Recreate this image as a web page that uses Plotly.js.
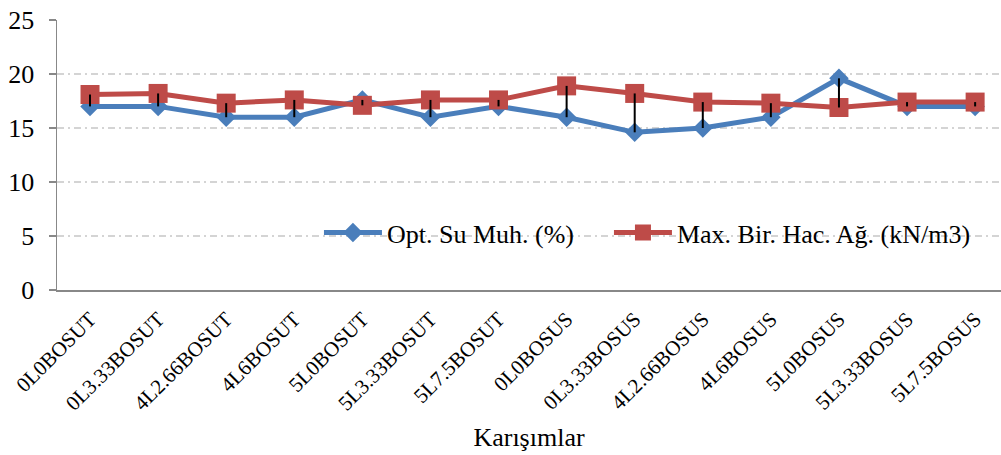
<!DOCTYPE html>
<html>
<head>
<meta charset="utf-8">
<script src="https://cdn.plot.ly/plotly-3.0.1.min.js"></script>
<style>html,body{margin:0;padding:0;background:#fff;}#chart{width:1001px;height:455px;}</style>
</head>
<body>
<div id="chart"></div>
<script>
const categories = ["0L0BOSUT","0L3.33BOSUT","4L2.66BOSUT","4L6BOSUT","5L0BOSUT","5L3.33BOSUT","5L7.5BOSUT","0L0BOSUS","0L3.33BOSUS","4L2.66BOSUS","4L6BOSUS","5L0BOSUS","5L3.33BOSUS","5L7.5BOSUS"];
const optSu = [17.0, 17.0, 16.0, 16.0, 17.6, 16.0, 17.0, 16.0, 14.6, 15.0, 16.0, 19.6, 17.0, 17.0];
const maxBir = [18.1, 18.2, 17.3, 17.6, 17.1, 17.6, 17.6, 18.9, 18.2, 17.4, 17.3, 16.9, 17.4, 17.4];
const seriesNames = ["Opt. Su Muh. (%)", "Max. Bir. Hac. Ağ. (kN/m3)"];
const yTicks = [0, 5, 10, 15, 20, 25];

const FONT = "Liberation Serif, Times New Roman, serif";

// high-low lines built from the two series
const hlX = [], hlY = [];
categories.forEach((c, i) => { hlX.push(c, c, null); hlY.push(optSu[i], maxBir[i], null); });

const traces = [
  {x: categories, y: optSu, name: seriesNames[0], type: "scatter", mode: "lines+markers", legend: "legend",
   line: {color: "#4A7EBB", width: 5}, marker: {symbol: "diamond", size: 15, color: "#4A7EBB"}},
  {x: categories, y: maxBir, name: seriesNames[1], type: "scatter", mode: "lines+markers", legend: "legend2",
   line: {color: "#BE4B48", width: 5}, marker: {symbol: "square", size: 19, color: "#BE4B48"}},
  {x: hlX, y: hlY, type: "scatter", mode: "lines", showlegend: false, hoverinfo: "skip",
   line: {color: "#000000", width: 2}, connectgaps: false}
];

const legendBase = {orientation: "h", xanchor: "left", y: 0.2125, yanchor: "middle",
  bgcolor: "rgba(0,0,0,0)", font: {family: FONT, size: 26, color: "#000"}, itemwidth: 58};

const layout = {
  width: 1001, height: 455,
  margin: {l: 57, r: 0, t: 20, b: 164.5},
  paper_bgcolor: "#ffffff", plot_bgcolor: "#ffffff",
  font: {family: FONT, color: "#000000", size: 26},
  showlegend: true,
  legend: Object.assign({}, legendBase, {x: 0.2775}),
  legend2: Object.assign({}, legendBase, {x: 0.5847}),
  xaxis: {
    type: "category", categoryorder: "array", categoryarray: categories,
    range: [-0.485, 13.38], showgrid: false, zeroline: false,
    showline: true, linecolor: "#888888", linewidth: 1.5, ticks: "",
    tickangle: -45, ticklabelstandoff: 7, tickfont: {family: FONT, size: 21, color: "#000"},
    title: {text: "Karışımlar", font: {family: FONT, size: 26, color: "#000"}, standoff: 13},
    automargin: false, fixedrange: true
  },
  yaxis: {
    range: [0, 25], tickvals: yTicks, ticktext: yTicks.map(String),
    showgrid: true, gridcolor: "#D4D4D4", gridwidth: 1.5, griddash: "7px,4px,2px,4px",
    zeroline: false, showline: true, linecolor: "#888888", linewidth: 1.5,
    ticks: "outside", ticklen: 7, tickwidth: 1.5, tickcolor: "#888888",
    ticklabelstandoff: 9,
    tickfont: {family: FONT, size: 26, color: "#000"}, automargin: false, fixedrange: true
  }
};

Plotly.newPlot("chart", traces, layout, {displayModeBar: false, staticPlot: true});
</script>
</body>
</html>
